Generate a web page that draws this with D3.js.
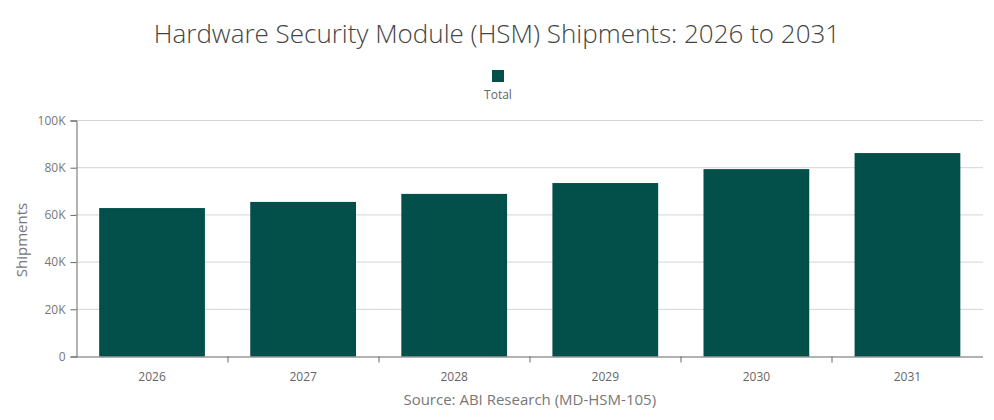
<!DOCTYPE html>
<html>
<head>
<meta charset="utf-8">
<script src="https://cdn.jsdelivr.net/npm/d3@7"></script>
<style>
  body { margin: 0; background: #fff; }
  svg { font-family: "Segoe UI", "Open Sans", sans-serif; }
</style>
</head>
<body>
<svg id="chart" width="994" height="420"></svg>
<script>
// data
var years = ["2026", "2027", "2028", "2029", "2030", "2031"];
var shipments = [62900, 65500, 68900, 73500, 79400, 86200];
var yTicks = [0, 20000, 40000, 60000, 80000, 100000];
var seriesName = "Total";
var barColor = "#034f4a";

var svg = d3.select("#chart");
var margin = { top: 120.5, right: 11, bottom: 63.5, left: 76.5 };
var width = 994 - margin.left - margin.right;
var height = 420 - margin.top - margin.bottom;

var x = d3.scaleBand()
    .domain(years)
    .range([0, width])
    .paddingInner(0.3)
    .paddingOuter(0.15);

var y = d3.scaleLinear()
    .domain([0, 100000])
    .range([height, 0]);

// title
svg.append("text")
    .attr("x", 497)
    .attr("y", 43)
    .attr("text-anchor", "middle")
    .style("font-size", "26px")
    .style("font-weight", 300)
    .style("fill", "#444")
    .text("Hardware Security Module (HSM) Shipments: 2026 to 2031");

// legend
var legend = svg.append("g").attr("transform", "translate(498,0)");
legend.append("rect")
    .attr("x", -6)
    .attr("y", 70)
    .attr("width", 12)
    .attr("height", 12)
    .style("fill", barColor);
legend.append("text")
    .attr("x", 0)
    .attr("y", 99)
    .attr("text-anchor", "middle")
    .style("font-size", "12px")
    .style("fill", "#666")
    .text(seriesName);

var g = svg.append("g")
    .attr("transform", "translate(" + margin.left + "," + margin.top + ")");

// gridlines
g.selectAll(".grid")
    .data(yTicks.slice(1))
    .enter()
    .append("line")
    .attr("class", "grid")
    .attr("x1", 0)
    .attr("x2", width)
    .attr("y1", function(d) { return y(d); })
    .attr("y2", function(d) { return y(d); })
    .style("stroke", "#d4d4d4")
    .style("stroke-width", 1);

// bars
g.selectAll(".bar")
    .data(shipments)
    .enter()
    .append("rect")
    .attr("class", "bar")
    .attr("x", function(d, i) { return x(years[i]); })
    .attr("y", function(d) { return y(d); })
    .attr("width", x.bandwidth())
    .attr("height", function(d) { return height - y(d); })
    .style("fill", barColor);

// y axis
var yAxis = g.append("g")
    .call(d3.axisLeft(y)
        .tickValues(yTicks)
        .tickSize(6)
        .tickPadding(5)
        .tickFormat(function(d) { return d === 0 ? "0" : (d / 1000) + "K"; }));
yAxis.select(".domain").style("stroke", "#666");
yAxis.selectAll(".tick line").style("stroke", "#666");
yAxis.selectAll(".tick text")
    .style("font-size", "12px")
    .style("fill", "#777")
    .style("font-family", "\"Segoe UI\", \"Open Sans\", sans-serif");

// x axis
var xAxis = g.append("g")
    .attr("transform", "translate(0," + height + ")")
    .call(d3.axisBottom(x).tickSize(0).tickPadding(16));
xAxis.select(".domain").attr("d", "M0,0.5H" + width).style("stroke", "#666");
xAxis.selectAll(".tick text")
    .style("font-size", "12px")
    .style("fill", "#666")
    .style("font-family", "\"Segoe UI\", \"Open Sans\", sans-serif");

// separator ticks between categories
g.selectAll(".sep")
    .data(years.slice(1))
    .enter()
    .append("line")
    .attr("class", "sep")
    .attr("x1", function(d) { return Math.round(x(d) - x.step() * x.paddingInner() / 2) + 0.5; })
    .attr("x2", function(d) { return Math.round(x(d) - x.step() * x.paddingInner() / 2) + 0.5; })
    .attr("y1", height)
    .attr("y2", height + 6)
    .style("stroke", "#666");

// axis titles
svg.append("text")
    .attr("transform", "translate(27,240) rotate(-90)")
    .attr("text-anchor", "middle")
    .style("font-size", "15px")
    .style("fill", "#777")
    .text("Shipments");

svg.append("text")
    .attr("x", margin.left + width / 2)
    .attr("y", 405)
    .attr("text-anchor", "middle")
    .style("font-size", "15px")
    .style("fill", "#777")
    .text("Source: ABI Research (MD-HSM-105)");
</script>
</body>
</html>
